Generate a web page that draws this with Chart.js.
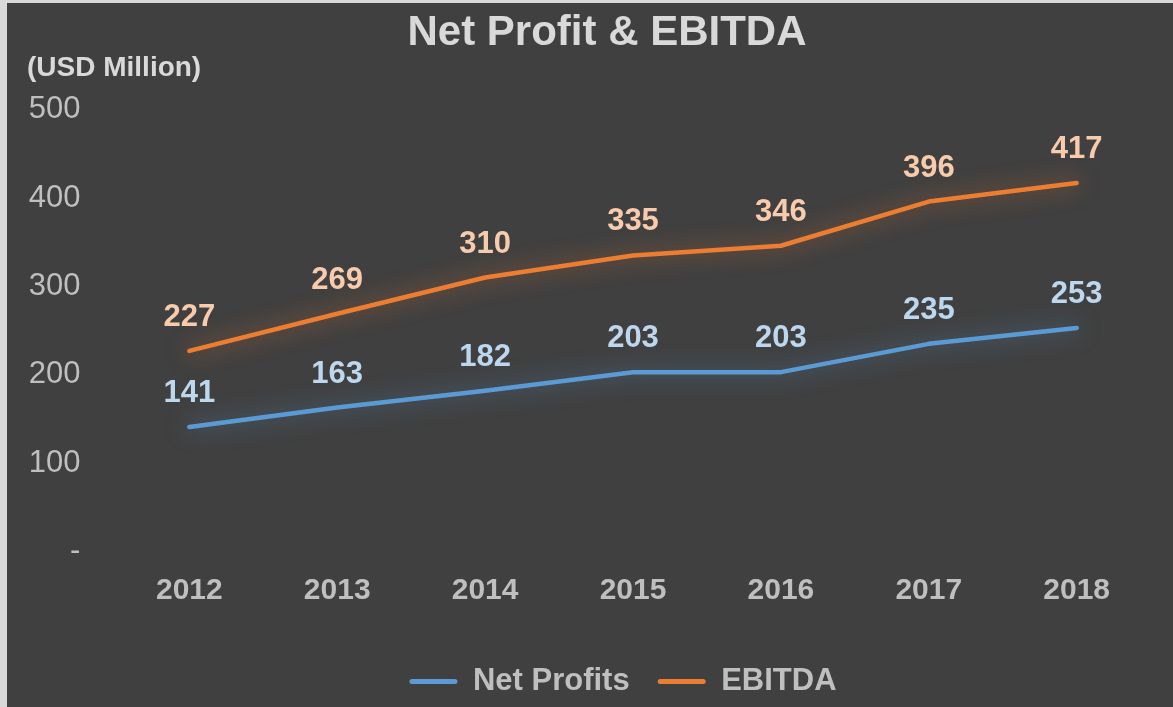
<!DOCTYPE html>
<html>
<head>
<meta charset="utf-8">
<script src="https://cdn.jsdelivr.net/npm/chart.js@4"></script>
<style>
  html, body { margin: 0; padding: 0; background: #d9d9d9; overflow: hidden; }
  #wrap { position: absolute; left: 7px; top: 3px; width: 1166px; height: 704px; background: #404040; }
</style>
</head>
<body>
<div id="wrap"><canvas id="chart" width="1166" height="704"></canvas></div>
<script>
// --- Data ---
const years = ["2012", "2013", "2014", "2015", "2016", "2017", "2018"];
const netProfits = [141, 163, 182, 203, 203, 235, 253];
const ebitda = [227, 269, 310, 335, 346, 396, 417];
const yTickValues = [0, 100, 200, 300, 400, 500];
const yTickLabels = ["-", "100", "200", "300", "400", "500"];

const titleText = "Net Profit & EBITDA";
const unitText = "(USD Million)";

const lineColors = ["#5b9bd5", "#ed7d31"];
const glowColors = ["rgba(91,155,213,0.65)", "rgba(237,125,49,0.65)"];
const valueColors = ["#bdd7ee", "#f8cbad"];

Chart.defaults.font.family = "'Liberation Sans', Arial, sans-serif";

// --- Plugins ---
const glowPlugin = {
  id: "glow",
  beforeDatasetDraw(chart, args) {
    const ctx = chart.ctx;
    ctx.save();
    ctx.shadowColor = glowColors[args.index];
    ctx.shadowBlur = 22;
  },
  afterDatasetDraw(chart) {
    chart.ctx.restore();
  }
};

const valueLabels = {
  id: "valueLabels",
  afterDatasetsDraw(chart) {
    const ctx = chart.ctx;
    ctx.save();
    ctx.font = "bold 31px 'Liberation Sans', Arial, sans-serif";
    ctx.textAlign = "center";
    ctx.textBaseline = "alphabetic";
    chart.data.datasets.forEach((ds, i) => {
      const meta = chart.getDatasetMeta(i);
      ctx.fillStyle = valueColors[i];
      meta.data.forEach((pt, j) => {
        ctx.fillText(String(ds.data[j]), pt.x, pt.y - 25);
      });
    });
    ctx.restore();
  }
};

const headerText = {
  id: "headerText",
  afterDraw(chart) {
    const ctx = chart.ctx;
    ctx.save();
    ctx.fillStyle = "#d9d9d9";
    ctx.textBaseline = "alphabetic";
    ctx.font = "bold 42px 'Liberation Sans', Arial, sans-serif";
    ctx.textAlign = "center";
    ctx.fillText(titleText, 600, 42);
    ctx.font = "bold 28px 'Liberation Sans', Arial, sans-serif";
    ctx.textAlign = "left";
    ctx.fillText(unitText, 20, 73);
    ctx.restore();
  }
};

// nudge the legend a bit left, like the original
const legendShift = {
  id: "legendShift",
  afterLayout(chart) {
    if (chart.legend) {
      chart.legend.left -= 10;
      chart.legend.right -= 10;
    }
  }
};

// --- Chart ---
new Chart(document.getElementById("chart"), {
  type: "line",
  data: {
    labels: years,
    datasets: [
      { label: "Net Profits", data: netProfits, borderColor: lineColors[0], backgroundColor: lineColors[0] },
      { label: "EBITDA", data: ebitda, borderColor: lineColors[1], backgroundColor: lineColors[1] }
    ]
  },
  options: {
    responsive: false,
    animation: false,
    devicePixelRatio: 1,
    layout: { padding: { top: 106.6, right: 22.4, left: 0, bottom: 0 } },
    elements: {
      line: { borderWidth: 4.5, tension: 0, borderCapStyle: "round", borderJoinStyle: "round" },
      point: { radius: 0, hoverRadius: 0 }
    },
    scales: {
      x: {
        offset: true,
        grid: { display: false, drawTicks: false },
        border: { display: false },
        ticks: { color: "#bfbfbf", font: { size: 30, weight: "bold" }, padding: 21 },
        afterFit: (s) => { s.height = 86.4; }
      },
      y: {
        min: 0,
        max: 500,
        grid: { display: false, drawTicks: false },
        border: { display: false },
        afterBuildTicks: (s) => { s.ticks = yTickValues.map(v => ({ value: v })); },
        ticks: {
          color: "#bfbfbf",
          font: { size: 31 },
          padding: 35,
          callback: (v) => yTickLabels[yTickValues.indexOf(v)]
        },
        afterFit: (s) => { s.width = 108.4; }
      }
    },
    plugins: {
      title: { display: false },
      tooltip: { enabled: false },
      legend: {
        position: "bottom",
        fullSize: false,
        labels: {
          color: "#bfbfbf",
          font: { size: 31, weight: "bold" },
          boxWidth: 48,
          boxHeight: 5,
          padding: 28,
          useBorderRadius: true,
          borderRadius: 2.5,
          generateLabels: (chart) =>
            Chart.defaults.plugins.legend.labels.generateLabels(chart).map(l => ({ ...l, lineWidth: 0, fillStyle: l.strokeStyle }))
        }
      }
    }
  },
  plugins: [glowPlugin, valueLabels, headerText, legendShift]
});
</script>
</body>
</html>
